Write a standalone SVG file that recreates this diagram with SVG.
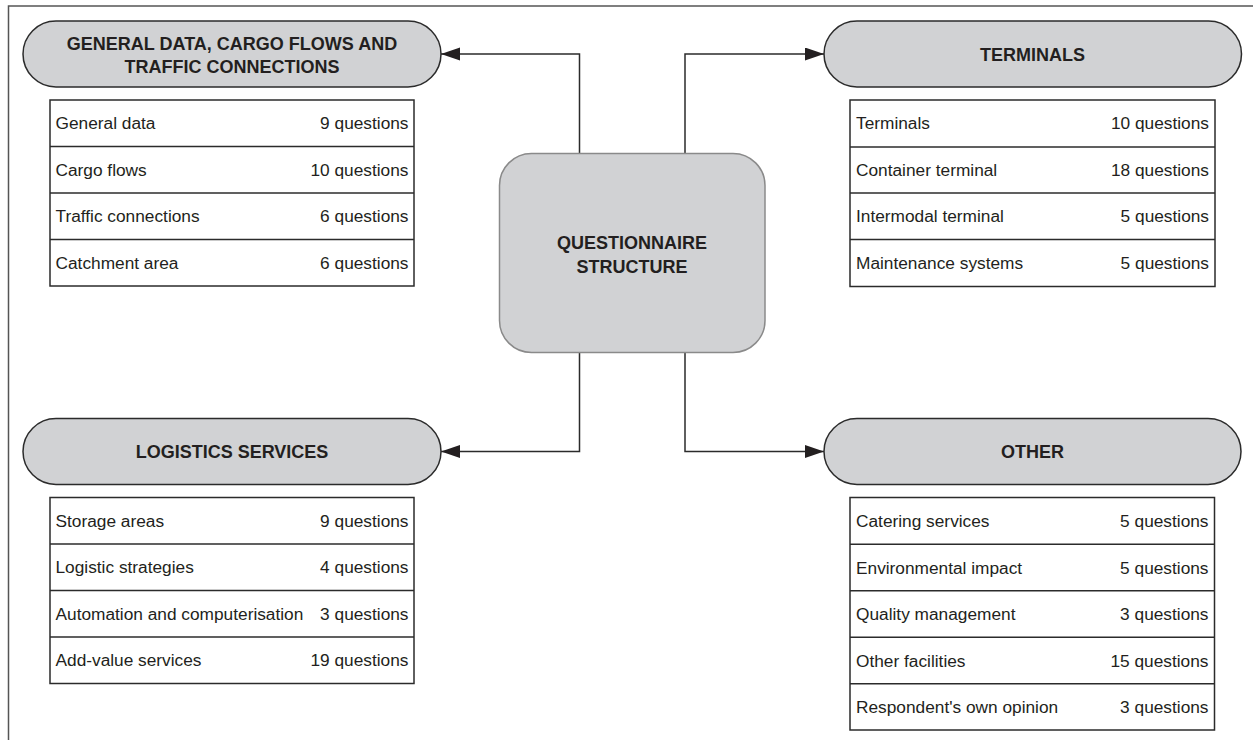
<svg xmlns="http://www.w3.org/2000/svg" width="1253" height="740" viewBox="0 0 1253 740">
<style>
.pill{fill:#d1d2d4;stroke:#2b2b2b;stroke-width:1.5}
.center{fill:#d1d2d4;stroke:#8a8a8a;stroke-width:1.5}
.tbl{fill:#fff;stroke:#2b2b2b;stroke-width:1.5}
.sep{stroke:#2b2b2b;stroke-width:1.5}
.conn{fill:none;stroke:#2b2b2b;stroke-width:1.5}
.hd{font-family:"Liberation Sans",Arial,sans-serif;font-weight:bold;font-size:18px;fill:#231f20;text-anchor:middle}
.l{font-family:"Liberation Sans",Arial,sans-serif;font-size:17.3px;fill:#231f20}
.r{font-family:"Liberation Sans",Arial,sans-serif;font-size:17.3px;fill:#231f20;text-anchor:end}
.frame{fill:none;stroke:#555;stroke-width:1.5}
</style>
<defs>
<marker id="ah" markerWidth="20" markerHeight="14" refX="19" refY="6.5" orient="auto" markerUnits="userSpaceOnUse">
<path d="M0,0 L19,6.5 L0,13 Z" fill="#231f20"/>
</marker>
</defs>
<rect width="1253" height="740" fill="#fff"/>
<path class="frame" d="M8.5,740 V6 H1253"/>

<g id="connectors">
<path class="conn" d="M579.5,153 V54 H441" marker-end="url(#ah)"/>
<path class="conn" d="M685,153 V54 H824" marker-end="url(#ah)"/>
<path class="conn" d="M579.5,353 V451.5 H441" marker-end="url(#ah)"/>
<path class="conn" d="M685,353 V451.5 H824" marker-end="url(#ah)"/>
</g>

<g id="center">
<rect class="center" x="499.5" y="153.5" width="265.5" height="199" rx="32"/>
<text class="hd" x="632" y="249">QUESTIONNAIRE</text>
<text class="hd" x="632" y="272.5">STRUCTURE</text>
</g>

<g id="general">
<rect class="pill" x="23" y="21" width="418" height="66" rx="33"/>
<text class="hd" x="232" y="50">GENERAL DATA, CARGO FLOWS AND</text>
<text class="hd" x="232" y="73">TRAFFIC CONNECTIONS</text>
<rect class="tbl" x="50" y="100" width="364" height="186"/>
<line class="sep" x1="50" y1="146.5" x2="414" y2="146.5"/>
<line class="sep" x1="50" y1="193" x2="414" y2="193"/>
<line class="sep" x1="50" y1="239.5" x2="414" y2="239.5"/>
<text class="l" x="55.5" y="129">General data</text><text class="r" x="408.5" y="129">9 questions</text>
<text class="l" x="55.5" y="175.5">Cargo flows</text><text class="r" x="408.5" y="175.5">10 questions</text>
<text class="l" x="55.5" y="222">Traffic connections</text><text class="r" x="408.5" y="222">6 questions</text>
<text class="l" x="55.5" y="268.5">Catchment area</text><text class="r" x="408.5" y="268.5">6 questions</text>
</g>

<g id="terminals">
<rect class="pill" x="824" y="21" width="417.5" height="66" rx="33"/>
<text class="hd" x="1032.5" y="60.5">TERMINALS</text>
<rect class="tbl" x="850" y="100" width="365" height="186.5"/>
<line class="sep" x1="850" y1="147" x2="1215" y2="147"/>
<line class="sep" x1="850" y1="193" x2="1215" y2="193"/>
<line class="sep" x1="850" y1="239.5" x2="1215" y2="239.5"/>
<text class="l" x="856" y="129">Terminals</text><text class="r" x="1209" y="129">10 questions</text>
<text class="l" x="856" y="175.5">Container terminal</text><text class="r" x="1209" y="175.5">18 questions</text>
<text class="l" x="856" y="222">Intermodal terminal</text><text class="r" x="1209" y="222">5 questions</text>
<text class="l" x="856" y="268.5">Maintenance systems</text><text class="r" x="1209" y="268.5">5 questions</text>
</g>

<g id="logistics">
<rect class="pill" x="23" y="418.5" width="418" height="66" rx="33"/>
<text class="hd" x="232" y="458">LOGISTICS SERVICES</text>
<rect class="tbl" x="50" y="497.5" width="364" height="186"/>
<line class="sep" x1="50" y1="544" x2="414" y2="544"/>
<line class="sep" x1="50" y1="590.5" x2="414" y2="590.5"/>
<line class="sep" x1="50" y1="637" x2="414" y2="637"/>
<text class="l" x="55.5" y="527">Storage areas</text><text class="r" x="408.5" y="527">9 questions</text>
<text class="l" x="55.5" y="573">Logistic strategies</text><text class="r" x="408.5" y="573">4 questions</text>
<text class="l" x="55.5" y="619.5">Automation and computerisation</text><text class="r" x="408.5" y="619.5">3 questions</text>
<text class="l" x="55.5" y="665.5">Add-value services</text><text class="r" x="408.5" y="665.5">19 questions</text>
</g>

<g id="other">
<rect class="pill" x="824" y="418.5" width="417" height="66" rx="33"/>
<text class="hd" x="1032.5" y="458">OTHER</text>
<rect class="tbl" x="850" y="497.5" width="364.5" height="232.5"/>
<line class="sep" x1="850" y1="544.3" x2="1214.5" y2="544.3"/>
<line class="sep" x1="850" y1="590.7" x2="1214.5" y2="590.7"/>
<line class="sep" x1="850" y1="637.3" x2="1214.5" y2="637.3"/>
<line class="sep" x1="850" y1="683.7" x2="1214.5" y2="683.7"/>
<text class="l" x="856" y="527">Catering services</text><text class="r" x="1208.5" y="527">5 questions</text>
<text class="l" x="856" y="573.5">Environmental impact</text><text class="r" x="1208.5" y="573.5">5 questions</text>
<text class="l" x="856" y="620">Quality management</text><text class="r" x="1208.5" y="620">3 questions</text>
<text class="l" x="856" y="666.5">Other facilities</text><text class="r" x="1208.5" y="666.5">15 questions</text>
<text class="l" x="856" y="713">Respondent's own opinion</text><text class="r" x="1208.5" y="713">3 questions</text>
</g>
</svg>
